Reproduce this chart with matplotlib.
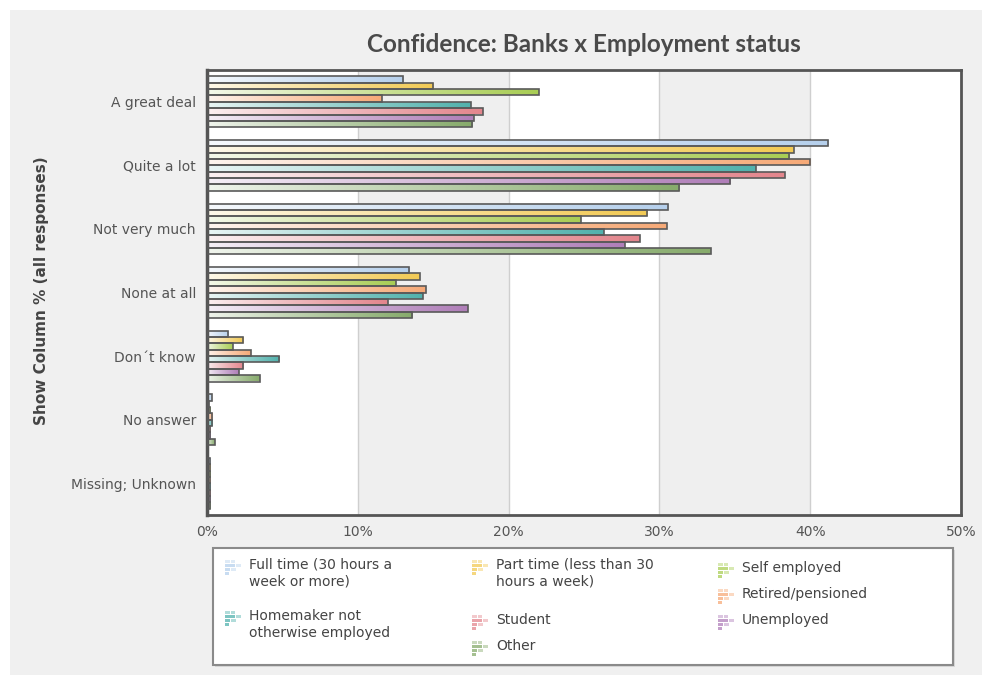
import numpy as np
import matplotlib
matplotlib.use("Agg")
import matplotlib.pyplot as plt
from matplotlib.patches import Rectangle
from matplotlib.colors import to_rgb

# Response categories (top to bottom) and employment-status series (column %)
categories = ["A great deal", "Quite a lot", "Not very much", "None at all",
              "Don\u00b4t know", "No answer", "Missing; Unknown"]

series_names = ["Full time (30 hours a\nweek or more)",
                "Part time (less than 30\nhours a week)",
                "Self employed",
                "Retired/pensioned",
                "Homemaker not\notherwise employed",
                "Student",
                "Unemployed",
                "Other"]

full_time  = [13.0, 41.2, 30.6, 13.4, 1.4, 0.3, 0.2]
part_time  = [15.0, 38.9, 29.2, 14.1, 2.4, 0.1, 0.2]
self_empl  = [22.0, 38.6, 24.8, 12.5, 1.7, 0.2, 0.2]
retired    = [11.6, 40.0, 30.5, 14.5, 2.9, 0.35, 0.2]
homemaker  = [17.5, 36.4, 26.3, 14.3, 4.8, 0.35, 0.2]
student    = [18.3, 38.3, 28.7, 12.0, 2.4, 0.2, 0.2]
unemployed = [17.7, 34.7, 27.7, 17.3, 2.1, 0.2, 0.2]
other      = [17.6, 31.3, 33.4, 13.6, 3.5, 0.5, 0.2]

series_values = [full_time, part_time, self_empl, retired,
                 homemaker, student, unemployed, other]

series_colors = ["#b6d0ec", "#f2ca55", "#a9cd55", "#f6aa78",
                 "#52b2ad", "#e3868d", "#b07fb9", "#87ab6c"]

x_ticks = [0, 10, 20, 30, 40, 50]
x_tick_labels = ["0%", "10%", "20%", "30%", "40%", "50%"]

title = "Confidence: Banks x Employment status"
y_title = "Show Column % (all responses)"

W, H = 982, 675


def fx(px):
    return px / W


def fy(py):
    return 1 - py / H


fig = plt.figure(figsize=(W / 100, H / 100), dpi=100)
fig.patch.set_facecolor("white")

# grey chart panel
fig.add_artist(Rectangle((fx(10), 0), 1 - fx(10), fy(10), transform=fig.transFigure,
                         facecolor="#f0f0f0", edgecolor="none", zorder=0))

ax = fig.add_axes([fx(207), fy(515), fx(961) - fx(207), fy(70) - fy(515)])
ax.set_facecolor("white")

n_cat = len(categories)
n_ser = len(series_values)
group_h = 0.80
bar_h = group_h / n_ser

# alternating bands and grid
for lo in (10, 30):
    ax.axvspan(lo, lo + 10, color="#efefef", zorder=0, lw=0)
for t in x_ticks[1:-1]:
    ax.axvline(t, color="#cfcfcf", lw=1, zorder=0.5)

for s, (vals, col) in enumerate(zip(series_values, series_colors)):
    c = np.array(to_rgb(col))
    light = 0.88 * np.ones(3) + 0.12 * c
    grad = np.linspace(0, 1, 64)[None, :, None] ** 0.9
    img = light[None, None, :] * (1 - grad) + c[None, None, :] * grad
    for i, v in enumerate(vals):
        yc = i - group_h / 2 + bar_h * (s + 0.5)
        bars = ax.barh(yc, v, height=bar_h, facecolor="none",
                       edgecolor="#5a5a5a", lw=1.2, zorder=3)
        patch = bars[0]
        im = ax.imshow(img, extent=[0, v, yc + bar_h / 2, yc - bar_h / 2],
                       aspect="auto", zorder=2, interpolation="bilinear")
        im.set_clip_path(patch)

ax.set_xlim(0, 50)
ax.set_ylim(n_cat - 0.5, -0.5)
ax.set_yticks(range(n_cat))
ax.set_yticklabels(categories)
ax.set_xticks(x_ticks)
ax.set_xticklabels(x_tick_labels)
ax.tick_params(axis="both", length=0, labelsize=10, labelcolor="#555555")
ax.tick_params(axis="y", pad=8)
ax.tick_params(axis="x", pad=7)
for sp in ax.spines.values():
    sp.set_color("#555555")
    sp.set_linewidth(2)
ax.spines["left"].set_linewidth(2.5)

fig.text(fx(584), fy(45), title, ha="center", va="center", fontsize=17.5,
         fontweight="bold", color="#4a4a4a", family="Lato")
fig.text(fx(42), fy(291), y_title, ha="center", va="center", rotation=90,
         fontsize=11, fontweight="bold", color="#444444")

# legend box
fig.add_artist(Rectangle((fx(215), fy(667)), fx(955) - fx(215), fy(550) - fy(667),
                         transform=fig.transFigure, facecolor="#d8d8d8",
                         edgecolor="none", zorder=1))
fig.add_artist(Rectangle((fx(213), fy(665)), fx(953) - fx(213), fy(548) - fy(665),
                         transform=fig.transFigure, facecolor="white",
                         edgecolor="#8a8a8a", lw=1.5, zorder=2))

legend_pos = [(225, 560), (472, 560), (718, 563), (718, 589),
              (225, 611), (472, 615), (718, 615), (472, 641)]


def legend_icon(x, y, color):
    c = np.array(to_rgb(color))
    pale = 0.55 * np.ones(3) + 0.45 * c
    mid = 0.25 * np.ones(3) + 0.75 * c
    for (dx, dy, w, h, cc) in [(0, 0, 5, 3, pale), (6, 0, 4, 3, pale),
                               (0, 4, 10, 3, mid), (11, 4, 5, 3, pale),
                               (0, 8, 5, 3, mid), (6, 8, 5, 3, pale),
                               (0, 12, 4, 3, mid)]:
        fig.add_artist(Rectangle((fx(x + dx), fy(y + dy + h)), w / W, h / H,
                                 transform=fig.transFigure, facecolor=cc,
                                 edgecolor="none", zorder=3))


for (x, y), name, col in zip(legend_pos, series_names, series_colors):
    legend_icon(x, y, col)
    fig.text(fx(x + 24), fy(y - 2), name, ha="left", va="top", fontsize=10,
             color="#444444", linespacing=1.25, zorder=3)

fig.savefig("out.png", dpi=100)
